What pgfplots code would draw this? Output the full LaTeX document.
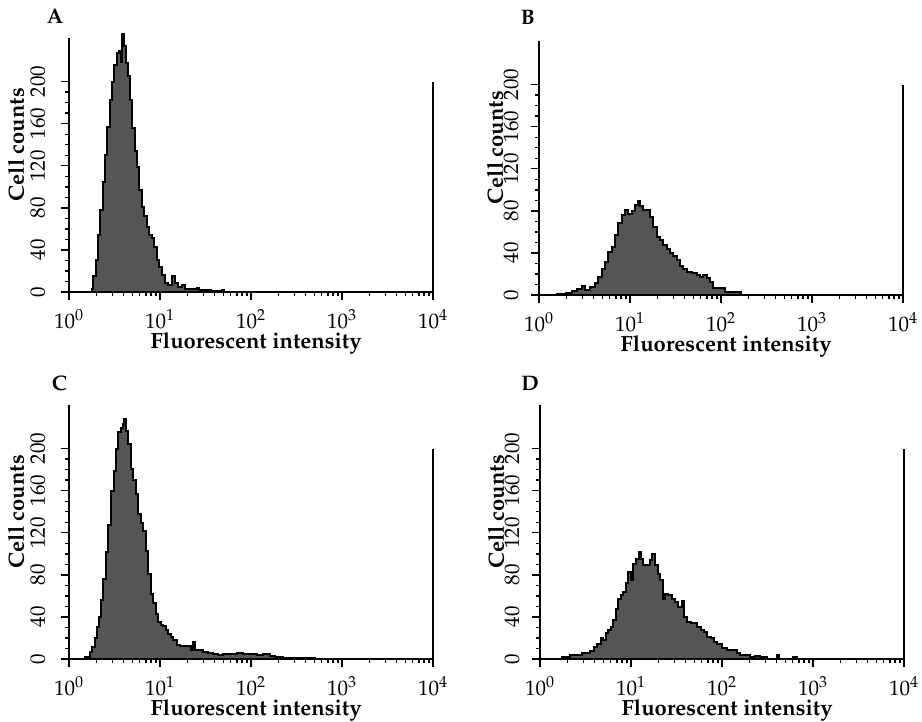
\documentclass[border=0pt]{standalone}
\usepackage[T1]{fontenc}
\usepackage{mathpazo}
\usepackage{pgfplots}
\pgfplotsset{compat=1.18}
\definecolor{histgray}{RGB}{85,85,85}

\tikzset{letter/.style={font=\bfseries\fontsize{10.5}{12}\selectfont, inner sep=0.5pt}}

\pgfplotsset{
 flow/.style={
  width=182pt, height=127pt, scale only axis,
  xmin=0, xmax=4, ymin=0, ymax=241.5,
  axis lines=left, axis line style={-, line width=0.8pt},
  tick align=outside, major tick length=4pt, minor tick length=2pt,
  tick style={black, line width=0.7pt},
  xtick={0,1,2,3,4}, xticklabels={$10^0$,$10^1$,$10^2$,$10^3$,$10^4$},
  minor xtick={0.301,0.477,0.602,0.699,0.778,0.845,0.903,0.954,
               1.301,1.477,1.602,1.699,1.778,1.845,1.903,1.954,
               2.301,2.477,2.602,2.699,2.778,2.845,2.903,2.954,
               3.301,3.477,3.602,3.699,3.778,3.845,3.903,3.954},
  ytick={0,40,...,200}, minor ytick={10,20,...,190},
  ticklabel style={font=\fontsize{10.5}{12}\selectfont, inner sep=0.5pt},
  xticklabel style={anchor=base, yshift=-14.3pt},
  yticklabel style={rotate=90, anchor=base, yshift=8pt},
  xlabel={Fluorescent intensity}, ylabel={Cell counts},
  label style={font=\bfseries\fontsize{11}{13}\selectfont, inner sep=0.5pt},
  xlabel style={at={(axis description cs:0.514,0)}, anchor=base, yshift=-28.2pt},
  ylabel style={at={(axis description cs:-0.1456,0.58)}, anchor=center},
  clip=false,
 },
 flowR/.style={flow,
  yticklabel style={yshift=-1.5pt},
  ylabel style={at={(axis description cs:-0.121,0.58)}},
 },
 hist/.style={const plot, draw=black, line width=1pt, fill=histgray},
 edge/.style={black, line width=0.8pt},
}

\pgfplotstableread{
L count
0.230 0
0.249 3
0.267 15
0.293 30
0.315 54
0.341 78
0.370 105
0.396 130
0.421 157
0.447 183
0.469 200
0.498 216
0.524 227
0.553 229
0.571 219
0.586 245
0.600 234
0.623 218
0.645 205
0.670 183
0.696 156
0.725 134
0.751 119
0.773 97
0.798 81
0.828 72
0.853 62
0.883 54
0.908 51
0.938 43
0.963 30
0.989 24
1.018 16
1.055 9
1.092 7
1.136 15
1.165 9
1.202 5
1.238 7
1.275 3
1.293 3
1.403 4
1.430 2
1.531 2
1.560 1
1.678 2
1.700 0
4.000 0
}\dataA

\pgfplotstableread{
L count
0.150 0
0.194 1
0.300 1.5
0.359 4
0.414 5.4
0.469 8.5
0.505 5
0.560 7.3
0.615 11
0.652 16.7
0.689 25
0.725 31.6
0.762 41
0.799 45.8
0.835 57
0.872 68
0.908 76
0.945 80.6
0.982 76.8
1.018 80
1.055 85.3
1.084 89.4
1.110 85
1.146 80.6
1.183 81
1.220 74
1.256 64.7
1.293 55
1.330 52
1.366 48
1.403 44
1.440 40
1.476 37
1.513 33
1.549 27.5
1.586 25
1.623 22
1.678 20.5
1.733 19
1.769 16.7
1.806 19
1.843 15.8
1.879 12.6
1.908 6.3
2.044 3
2.220 0
4.000 0
}\dataB

\pgfplotstableread{
L count
0.150 0
0.176 2
0.231 7
0.256 11.7
0.286 19.6
0.311 30.6
0.330 40
0.352 56
0.377 76.5
0.403 101.7
0.432 127
0.462 160
0.491 179
0.516 200
0.542 216
0.571 220
0.593 223
0.608 228.5
0.626 217
0.652 204
0.681 181
0.707 170
0.733 157
0.762 138
0.791 129
0.817 122
0.846 103
0.872 81
0.901 62
0.927 53
0.956 43
0.982 35
1.011 32
1.037 31
1.062 27.5
1.092 24
1.121 21
1.147 18
1.183 13
1.220 12
1.311 12
1.341 9
1.366 16.4
1.380 9
1.440 8.5
1.476 7
1.531 6
1.586 4.7
1.641 3.8
1.696 4.7
1.769 4.7
1.843 5.4
1.916 4.7
1.989 4.4
2.063 3.8
2.135 4.4
2.209 3
2.264 2
2.355 1
2.465 0.6
2.648 0.5
2.700 0
4.000 0
}\dataC

\pgfplotstableread{
L count
0.200 0
0.238 1.6
0.330 3.8
0.458 6
0.513 5.4
0.549 7.9
0.593 11
0.630 14
0.667 19.6
0.696 18
0.725 24.3
0.751 27.5
0.777 30.6
0.806 37
0.832 48
0.861 57.5
0.890 60.7
0.916 64
0.945 72
0.971 83
0.996 75
1.026 90.7
1.055 95.5
1.084 101.7
1.110 95.5
1.136 89
1.172 89
1.209 94
1.234 100
1.264 89
1.300 81
1.319 75
1.348 57.5
1.374 62
1.410 60.7
1.447 57.5
1.484 54
1.520 49.6
1.557 55
1.582 40
1.619 35
1.656 34
1.692 34.5
1.729 30.6
1.766 27.5
1.802 26
1.839 21
1.876 19.6
1.912 16.4
1.949 14
1.996 10
2.051 9
2.117 8.5
2.161 6
2.198 3.8
2.253 3.8
2.308 2.2
2.363 2.8
2.418 1.5
2.491 0
2.601 3.8
2.630 0
2.784 2
2.821 0
4.000 0
}\dataD

\begin{document}
\begin{tikzpicture}
\useasboundingbox (0,0) rectangle (461pt,361pt);

\begin{axis}[flow, at={(34.5pt,215pt)}, anchor=south west]
\addplot[hist] table[x=L, y=count] {\dataA} \closedcycle;
\addplot[edge] coordinates {(4,0) (4,200)};
\end{axis}

\begin{axis}[flowR, at={(269.5pt,213.5pt)}, anchor=south west]
\addplot[hist] table[x=L, y=count] {\dataB} \closedcycle;
\addplot[edge] coordinates {(4,0) (4,200)};
\end{axis}

\begin{axis}[flow, at={(34.5pt,31.5pt)}, anchor=south west]
\addplot[hist] table[x=L, y=count] {\dataC} \closedcycle;
\addplot[edge] coordinates {(4,0) (4,200)};
\end{axis}

\begin{axis}[flowR, at={(270pt,31.5pt)}, anchor=south west]
\addplot[hist] table[x=L, y=count] {\dataD} \closedcycle;
\addplot[edge] coordinates {(4,0) (4,200)};
\end{axis}

\node[letter] at (27.5pt,353pt) {A};
\node[letter] at (264pt,352pt) {B};
\node[letter] at (29.75pt,169.25pt) {C};
\node[letter] at (265pt,169.25pt) {D};
\end{tikzpicture}
\end{document}
